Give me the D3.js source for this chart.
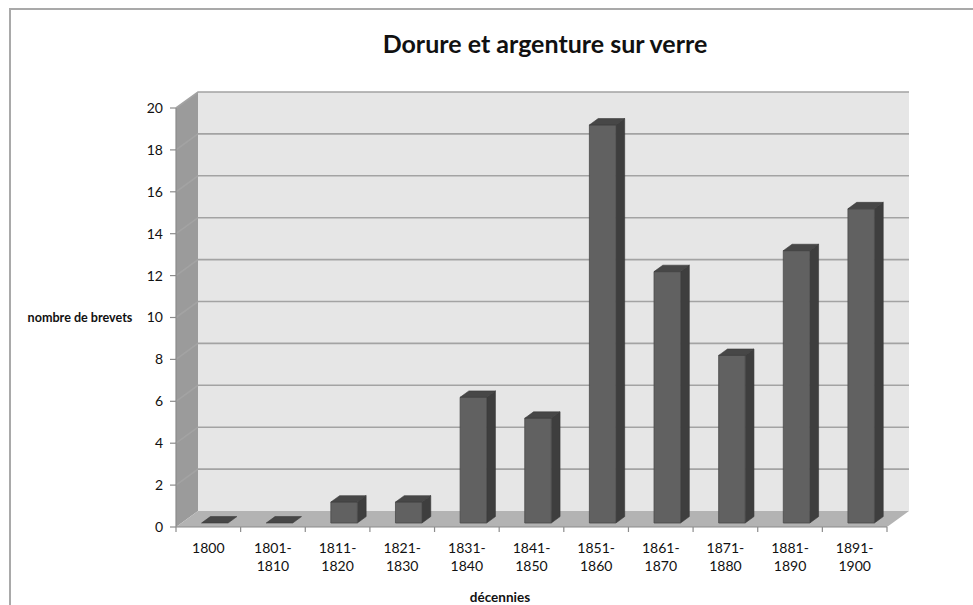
<!DOCTYPE html>
<html>
<head>
<meta charset="utf-8">
<script src="https://cdn.jsdelivr.net/npm/d3@7"></script>
<style>
  html, body { margin: 0; padding: 0; background: #fff; }
  svg { display: block; font-family: Lato, "Open Sans", sans-serif; }
</style>
</head>
<body>
<svg id="chart" width="973" height="605"></svg>
<script>
// Patents for gilding and silvering on glass, per decade
const categories = ["1800", "1801-1810", "1811-1820", "1821-1830", "1831-1840", "1841-1850",
                    "1851-1860", "1861-1870", "1871-1880", "1881-1890", "1891-1900"];
const brevets = [0, 0, 1, 1, 6, 5, 19, 12, 8, 13, 15];
const yTicks = [0, 2, 4, 6, 8, 10, 12, 14, 16, 18, 20];
const title = "Dorure et argenture sur verre";
const yTitle = "nombre de brevets";
const xTitle = "décennies";

const svg = d3.select("#chart");

// Front plane of the 3D plot box
const x = d3.scaleBand().domain(categories).range([176, 887]).paddingInner(0).paddingOuter(0);
const y = d3.scaleLinear().domain([0, 20]).range([527, 108]);

// Depth projection: f = 0 on the front plane, f = 1 on the back wall
const DEPTH = { dx: 22, dy: -16 };
const proj = (px, py, f) => [px + f * DEPTH.dx, py + f * DEPTH.dy];
const poly = pts => "M" + pts.map(p => p.join(",")).join("L") + "Z";

const x0 = x.range()[0], x1 = x.range()[1];
const yMin = y(0), yMax = y(20);

// Chart frame
svg.append("rect")
  .attr("x", 10).attr("y", 9).attr("width", 1000).attr("height", 700)
  .attr("fill", "none").attr("stroke", "#a9a9a9").attr("stroke-width", 2);

// Left side wall
svg.append("path")
  .attr("d", poly([[x0, yMax], proj(x0, yMax, 1), proj(x0, yMin, 1), [x0, yMin]]))
  .attr("fill", "#9b9b9b");

// Back wall
svg.append("path")
  .attr("d", poly([proj(x0, yMax, 1), proj(x1, yMax, 1), proj(x1, yMin, 1), proj(x0, yMin, 1)]))
  .attr("fill", "#e6e6e6");

// Floor
svg.append("path")
  .attr("d", poly([[x0, yMin], [x1, yMin], proj(x1, yMin, 1), proj(x0, yMin, 1)]))
  .attr("fill", "#b3b3b3");

// Gridlines on side wall and back wall
const grid = svg.append("g").attr("fill", "none").attr("stroke", "#a3a3a3").attr("stroke-width", 1.6);
yTicks.filter(t => t > 0).forEach(t => {
  const a = [x0, y(t)], b = proj(x0, y(t), 1), c = proj(x1, y(t), 1);
  grid.append("path").attr("d", "M" + a + "L" + b + "L" + c);
});

// Bars (front face, right side, top)
const BAR_W = x.bandwidth() * 0.41;
const F_FRONT = 0.25, F_BACK = 0.65;
const bars = svg.append("g");
categories.forEach((c, i) => {
  const cx = x(c) + x.bandwidth() / 2 + 1;
  const l = cx - BAR_W / 2, r = cx + BAR_W / 2;
  const yt = y(brevets[i]), yb = y(0);
  const fl = proj(l, yt, F_FRONT), fr = proj(r, yt, F_FRONT);
  const flb = proj(l, yb, F_FRONT), frb = proj(r, yb, F_FRONT);
  const bl = proj(l, yt, F_BACK), br = proj(r, yt, F_BACK);
  const brb = proj(r, yb, F_BACK);
  const g = bars.append("g").attr("stroke-linejoin", "round");
  if (brevets[i] > 0) {
    g.append("path").attr("d", poly([fr, br, brb, frb])).attr("fill", "#3e3e3e")
      .attr("stroke", "#363636").attr("stroke-width", 0.6);
    g.append("path").attr("d", poly([fl, fr, frb, flb])).attr("fill", "#616161")
      .attr("stroke", "#4a4a4a").attr("stroke-width", 0.8);
  }
  g.append("path").attr("d", poly([fl, fr, br, bl])).attr("fill", "#474747")
    .attr("stroke", "#3a3a3a").attr("stroke-width", 0.6);
});

// Axis lines and ticks
const axes = svg.append("g").attr("stroke", "#8c8c8c").attr("stroke-width", 1.2).attr("fill", "none");
axes.append("line").attr("x1", x0).attr("x2", x0).attr("y1", yMax).attr("y2", yMin);
axes.append("line").attr("x1", x0).attr("x2", x1).attr("y1", yMin).attr("y2", yMin);
yTicks.forEach(t => {
  axes.append("line").attr("x1", x0 - 6).attr("x2", x0).attr("y1", y(t)).attr("y2", y(t));
});
categories.concat([null]).forEach((c, i) => {
  const px = c === null ? x1 : x(c);
  axes.append("line").attr("x1", px).attr("x2", px).attr("y1", yMin).attr("y2", yMin + 5);
});

// Y tick labels
svg.append("g").selectAll("text").data(yTicks).join("text")
  .attr("x", 163).attr("y", d => y(d)).attr("dy", "0.35em")
  .attr("text-anchor", "end").attr("font-size", 14).attr("fill", "#111")
  .text(d => d);

// X category labels (split over two lines at the hyphen)
const xl = svg.append("g").attr("font-size", 14).attr("fill", "#111").attr("text-anchor", "middle");
categories.forEach(c => {
  const cx = x(c) + x.bandwidth() / 2;
  const parts = c.includes("-") ? [c.split("-")[0] + "-", c.split("-")[1]] : [c];
  const t = xl.append("text").attr("x", cx).attr("y", 553);
  parts.forEach((p, k) => t.append("tspan").attr("x", cx).attr("dy", k === 0 ? 0 : 18).text(p));
});

// Titles
svg.append("text").attr("x", 545).attr("y", 53).attr("text-anchor", "middle")
  .attr("font-size", 25).attr("font-weight", "bold").attr("fill", "#111").text(title);
svg.append("text").attr("x", 80).attr("y", 322).attr("text-anchor", "middle")
  .attr("font-size", 12.6).attr("font-weight", "bold").attr("fill", "#111").text(yTitle);
svg.append("text").attr("x", 500).attr("y", 602).attr("text-anchor", "middle")
  .attr("font-size", 13.5).attr("font-weight", "bold").attr("fill", "#111").text(xTitle);
</script>
</body>
</html>
